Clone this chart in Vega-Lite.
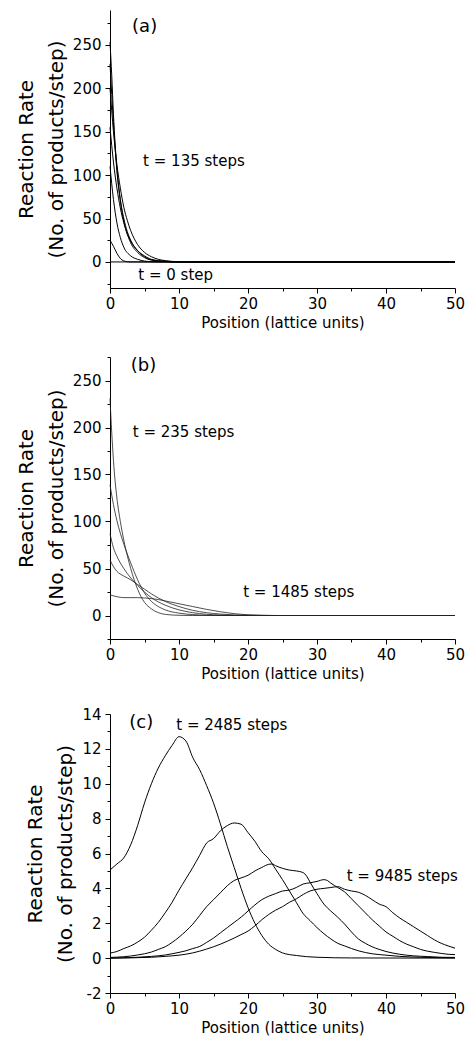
{
  "$schema": "https://vega.github.io/schema/vega-lite/v6.json",
  "padding": {"left": 16, "top": 10, "right": 5, "bottom": 5},
  "spacing": 26,
  "config": {
    "view": {"stroke": null},
    "font": "DejaVu Sans",
    "axis": {
      "grid": false,
      "domainColor": "black",
      "domainWidth": 1,
      "tickColor": "black",
      "tickWidth": 1,
      "tickSize": 5,
      "labelColor": "black",
      "titleColor": "black",
      "labelFont": "DejaVu Sans",
      "titleFont": "DejaVu Sans",
      "labelFontSize": 15,
      "titleFontSize": 15,
      "titleFontWeight": "normal",
      "labelPadding": 3,
      "labelFlush": false,
      "labelOverlap": false
    },
    "axisX": {"titlePadding": 4},
    "line": {"color": "black", "strokeWidth": 1, "interpolate": "monotone"},
    "text": {"font": "DejaVu Sans", "fontSize": 15, "color": "black", "align": "left", "baseline": "middle"}
  },
  "datasets": {
    "a": [
      {"id": "a0", "x": 0, "y": 0}, {"id": "a0", "x": 50, "y": 0},
      {"id": "a1", "x": 0, "y": 25}, {"id": "a1", "x": 0.5, "y": 18}, {"id": "a1", "x": 1, "y": 10}, {"id": "a1", "x": 1.5, "y": 4}, {"id": "a1", "x": 2, "y": 1.2}, {"id": "a1", "x": 2.5, "y": 0.3}, {"id": "a1", "x": 3, "y": 0}, {"id": "a1", "x": 50, "y": 0},
      {"id": "a2", "x": 0, "y": 110}, {"id": "a2", "x": 0.5, "y": 72}, {"id": "a2", "x": 1, "y": 45}, {"id": "a2", "x": 1.5, "y": 28}, {"id": "a2", "x": 2, "y": 17}, {"id": "a2", "x": 3, "y": 7}, {"id": "a2", "x": 4, "y": 3}, {"id": "a2", "x": 5, "y": 1}, {"id": "a2", "x": 6, "y": 0.3}, {"id": "a2", "x": 7, "y": 0}, {"id": "a2", "x": 50, "y": 0},
      {"id": "a3", "x": 0, "y": 155}, {"id": "a3", "x": 0.5, "y": 115}, {"id": "a3", "x": 1, "y": 85}, {"id": "a3", "x": 1.5, "y": 62}, {"id": "a3", "x": 2, "y": 45}, {"id": "a3", "x": 3, "y": 24}, {"id": "a3", "x": 4, "y": 13}, {"id": "a3", "x": 5, "y": 7}, {"id": "a3", "x": 6, "y": 3}, {"id": "a3", "x": 8, "y": 0.8}, {"id": "a3", "x": 10, "y": 0}, {"id": "a3", "x": 50, "y": 0},
      {"id": "a4", "x": 0, "y": 200}, {"id": "a4", "x": 0.5, "y": 150}, {"id": "a4", "x": 1, "y": 112}, {"id": "a4", "x": 1.5, "y": 85}, {"id": "a4", "x": 2, "y": 63}, {"id": "a4", "x": 2.5, "y": 48}, {"id": "a4", "x": 3, "y": 36}, {"id": "a4", "x": 3.5, "y": 27}, {"id": "a4", "x": 4, "y": 20}, {"id": "a4", "x": 5, "y": 11}, {"id": "a4", "x": 6, "y": 6}, {"id": "a4", "x": 7, "y": 3}, {"id": "a4", "x": 8, "y": 1.5}, {"id": "a4", "x": 10, "y": 0.3}, {"id": "a4", "x": 13, "y": 0}, {"id": "a4", "x": 50, "y": 0},
      {"id": "a5", "x": 0, "y": 228}, {"id": "a5", "x": 0.5, "y": 160}, {"id": "a5", "x": 1, "y": 105}, {"id": "a5", "x": 1.5, "y": 70}, {"id": "a5", "x": 2, "y": 47}, {"id": "a5", "x": 3, "y": 22}, {"id": "a5", "x": 4, "y": 11}, {"id": "a5", "x": 5, "y": 5}, {"id": "a5", "x": 6, "y": 2}, {"id": "a5", "x": 8, "y": 0.5}, {"id": "a5", "x": 10, "y": 0}, {"id": "a5", "x": 50, "y": 0},
      {"id": "a6", "x": 0, "y": 253}, {"id": "a6", "x": 0.25, "y": 215}, {"id": "a6", "x": 0.5, "y": 170}, {"id": "a6", "x": 0.75, "y": 135}, {"id": "a6", "x": 1, "y": 108}, {"id": "a6", "x": 1.5, "y": 72}, {"id": "a6", "x": 2, "y": 50}, {"id": "a6", "x": 2.5, "y": 35}, {"id": "a6", "x": 3, "y": 25}, {"id": "a6", "x": 4, "y": 13}, {"id": "a6", "x": 5, "y": 6}, {"id": "a6", "x": 6, "y": 2.5}, {"id": "a6", "x": 8, "y": 0.5}, {"id": "a6", "x": 10, "y": 0}, {"id": "a6", "x": 50, "y": 0}
    ],
    "b": [
      {"id": "b1", "x": 0, "y": 231}, {"id": "b1", "x": 0.25, "y": 195}, {"id": "b1", "x": 0.5, "y": 165}, {"id": "b1", "x": 1, "y": 125}, {"id": "b1", "x": 1.5, "y": 100}, {"id": "b1", "x": 2, "y": 80}, {"id": "b1", "x": 2.5, "y": 64}, {"id": "b1", "x": 3, "y": 50}, {"id": "b1", "x": 3.5, "y": 38}, {"id": "b1", "x": 4, "y": 28}, {"id": "b1", "x": 4.5, "y": 20}, {"id": "b1", "x": 5, "y": 14}, {"id": "b1", "x": 6, "y": 7}, {"id": "b1", "x": 7, "y": 3}, {"id": "b1", "x": 8, "y": 1.2}, {"id": "b1", "x": 10, "y": 0.2}, {"id": "b1", "x": 12, "y": 0}, {"id": "b1", "x": 50, "y": 0},
      {"id": "b2", "x": 0, "y": 139}, {"id": "b2", "x": 0.5, "y": 118}, {"id": "b2", "x": 1, "y": 101}, {"id": "b2", "x": 2, "y": 76}, {"id": "b2", "x": 3, "y": 56}, {"id": "b2", "x": 4, "y": 38}, {"id": "b2", "x": 5, "y": 24}, {"id": "b2", "x": 6, "y": 15}, {"id": "b2", "x": 7, "y": 9.5}, {"id": "b2", "x": 8, "y": 6}, {"id": "b2", "x": 10, "y": 2.5}, {"id": "b2", "x": 12, "y": 1}, {"id": "b2", "x": 14, "y": 0.3}, {"id": "b2", "x": 16, "y": 0}, {"id": "b2", "x": 50, "y": 0},
      {"id": "b3", "x": 0, "y": 87}, {"id": "b3", "x": 0.5, "y": 72}, {"id": "b3", "x": 1, "y": 63}, {"id": "b3", "x": 2, "y": 50}, {"id": "b3", "x": 3, "y": 40}, {"id": "b3", "x": 4, "y": 32}, {"id": "b3", "x": 5, "y": 25}, {"id": "b3", "x": 6, "y": 19}, {"id": "b3", "x": 8, "y": 11}, {"id": "b3", "x": 10, "y": 6}, {"id": "b3", "x": 12, "y": 3}, {"id": "b3", "x": 14, "y": 1.3}, {"id": "b3", "x": 16, "y": 0.5}, {"id": "b3", "x": 18, "y": 0.1}, {"id": "b3", "x": 20, "y": 0}, {"id": "b3", "x": 50, "y": 0},
      {"id": "b4", "x": 0, "y": 59}, {"id": "b4", "x": 0.5, "y": 52}, {"id": "b4", "x": 1, "y": 47}, {"id": "b4", "x": 2, "y": 42}, {"id": "b4", "x": 3, "y": 38}, {"id": "b4", "x": 4, "y": 33}, {"id": "b4", "x": 5, "y": 28}, {"id": "b4", "x": 6, "y": 23}, {"id": "b4", "x": 8, "y": 15}, {"id": "b4", "x": 10, "y": 9.5}, {"id": "b4", "x": 12, "y": 5.5}, {"id": "b4", "x": 14, "y": 3}, {"id": "b4", "x": 16, "y": 1.5}, {"id": "b4", "x": 18, "y": 0.6}, {"id": "b4", "x": 20, "y": 0.2}, {"id": "b4", "x": 22, "y": 0}, {"id": "b4", "x": 50, "y": 0},
      {"id": "b5", "x": 0, "y": 22}, {"id": "b5", "x": 1, "y": 20}, {"id": "b5", "x": 2, "y": 19}, {"id": "b5", "x": 3, "y": 19}, {"id": "b5", "x": 4, "y": 19}, {"id": "b5", "x": 5, "y": 18.7}, {"id": "b5", "x": 6, "y": 18}, {"id": "b5", "x": 7, "y": 17}, {"id": "b5", "x": 8, "y": 15.5}, {"id": "b5", "x": 10, "y": 12.5}, {"id": "b5", "x": 12, "y": 9.5}, {"id": "b5", "x": 14, "y": 6.5}, {"id": "b5", "x": 16, "y": 4}, {"id": "b5", "x": 18, "y": 2}, {"id": "b5", "x": 20, "y": 0.8}, {"id": "b5", "x": 22, "y": 0.3}, {"id": "b5", "x": 24, "y": 0}, {"id": "b5", "x": 50, "y": 0}
    ],
    "c": [
      {"id": "c1", "x": 0, "y": 5.05}, {"id": "c1", "x": 1, "y": 5.4}, {"id": "c1", "x": 2, "y": 5.75}, {"id": "c1", "x": 3, "y": 6.5}, {"id": "c1", "x": 4, "y": 7.6}, {"id": "c1", "x": 5, "y": 8.9}, {"id": "c1", "x": 6, "y": 10.0}, {"id": "c1", "x": 7, "y": 10.9}, {"id": "c1", "x": 8, "y": 11.6}, {"id": "c1", "x": 9, "y": 12.2}, {"id": "c1", "x": 10, "y": 12.7}, {"id": "c1", "x": 11, "y": 12.45}, {"id": "c1", "x": 12, "y": 11.5}, {"id": "c1", "x": 13, "y": 10.8}, {"id": "c1", "x": 14, "y": 9.9}, {"id": "c1", "x": 15, "y": 8.9}, {"id": "c1", "x": 16, "y": 7.7}, {"id": "c1", "x": 17, "y": 6.4}, {"id": "c1", "x": 18, "y": 5.2}, {"id": "c1", "x": 19, "y": 4.0}, {"id": "c1", "x": 20, "y": 2.9}, {"id": "c1", "x": 21, "y": 2.0}, {"id": "c1", "x": 22, "y": 1.3}, {"id": "c1", "x": 23, "y": 0.8}, {"id": "c1", "x": 24, "y": 0.5}, {"id": "c1", "x": 25, "y": 0.3}, {"id": "c1", "x": 27, "y": 0.15}, {"id": "c1", "x": 30, "y": 0.05}, {"id": "c1", "x": 35, "y": 0.01}, {"id": "c1", "x": 50, "y": 0},
      {"id": "c2", "x": 0, "y": 0.29}, {"id": "c2", "x": 1, "y": 0.38}, {"id": "c2", "x": 2, "y": 0.55}, {"id": "c2", "x": 3, "y": 0.7}, {"id": "c2", "x": 4, "y": 0.92}, {"id": "c2", "x": 5, "y": 1.2}, {"id": "c2", "x": 6, "y": 1.6}, {"id": "c2", "x": 7, "y": 2.05}, {"id": "c2", "x": 8, "y": 2.6}, {"id": "c2", "x": 9, "y": 3.2}, {"id": "c2", "x": 10, "y": 3.9}, {"id": "c2", "x": 11, "y": 4.55}, {"id": "c2", "x": 12, "y": 5.2}, {"id": "c2", "x": 13, "y": 5.9}, {"id": "c2", "x": 14, "y": 6.6}, {"id": "c2", "x": 15, "y": 6.85}, {"id": "c2", "x": 16, "y": 7.3}, {"id": "c2", "x": 17, "y": 7.6}, {"id": "c2", "x": 18, "y": 7.75}, {"id": "c2", "x": 19, "y": 7.68}, {"id": "c2", "x": 20, "y": 7.2}, {"id": "c2", "x": 21, "y": 6.7}, {"id": "c2", "x": 22, "y": 6.1}, {"id": "c2", "x": 23, "y": 5.7}, {"id": "c2", "x": 24, "y": 5.1}, {"id": "c2", "x": 25, "y": 4.5}, {"id": "c2", "x": 26, "y": 3.85}, {"id": "c2", "x": 27, "y": 3.2}, {"id": "c2", "x": 28, "y": 2.55}, {"id": "c2", "x": 29, "y": 2.15}, {"id": "c2", "x": 30, "y": 1.75}, {"id": "c2", "x": 31, "y": 1.4}, {"id": "c2", "x": 32, "y": 1.1}, {"id": "c2", "x": 33, "y": 0.85}, {"id": "c2", "x": 34, "y": 0.7}, {"id": "c2", "x": 35, "y": 0.55}, {"id": "c2", "x": 36, "y": 0.42}, {"id": "c2", "x": 38, "y": 0.25}, {"id": "c2", "x": 40, "y": 0.17}, {"id": "c2", "x": 42, "y": 0.1}, {"id": "c2", "x": 45, "y": 0.05}, {"id": "c2", "x": 50, "y": 0.02},
      {"id": "c3", "x": 0, "y": 0.04}, {"id": "c3", "x": 2, "y": 0.08}, {"id": "c3", "x": 3, "y": 0.12}, {"id": "c3", "x": 4, "y": 0.18}, {"id": "c3", "x": 5, "y": 0.25}, {"id": "c3", "x": 6, "y": 0.35}, {"id": "c3", "x": 7, "y": 0.5}, {"id": "c3", "x": 8, "y": 0.65}, {"id": "c3", "x": 9, "y": 0.9}, {"id": "c3", "x": 10, "y": 1.2}, {"id": "c3", "x": 11, "y": 1.55}, {"id": "c3", "x": 12, "y": 1.95}, {"id": "c3", "x": 13, "y": 2.45}, {"id": "c3", "x": 14, "y": 2.95}, {"id": "c3", "x": 15, "y": 3.35}, {"id": "c3", "x": 16, "y": 3.75}, {"id": "c3", "x": 17, "y": 4.15}, {"id": "c3", "x": 18, "y": 4.45}, {"id": "c3", "x": 19, "y": 4.6}, {"id": "c3", "x": 20, "y": 4.75}, {"id": "c3", "x": 21, "y": 5.0}, {"id": "c3", "x": 22, "y": 5.2}, {"id": "c3", "x": 23, "y": 5.38}, {"id": "c3", "x": 23.5, "y": 5.4}, {"id": "c3", "x": 24, "y": 5.3}, {"id": "c3", "x": 25, "y": 5.15}, {"id": "c3", "x": 26, "y": 5.05}, {"id": "c3", "x": 27, "y": 5.0}, {"id": "c3", "x": 28, "y": 4.9}, {"id": "c3", "x": 28.5, "y": 4.7}, {"id": "c3", "x": 29, "y": 4.35}, {"id": "c3", "x": 30, "y": 3.7}, {"id": "c3", "x": 31, "y": 3.1}, {"id": "c3", "x": 32, "y": 2.7}, {"id": "c3", "x": 33, "y": 2.35}, {"id": "c3", "x": 34, "y": 1.95}, {"id": "c3", "x": 35, "y": 1.5}, {"id": "c3", "x": 36, "y": 1.1}, {"id": "c3", "x": 37, "y": 0.85}, {"id": "c3", "x": 38, "y": 0.65}, {"id": "c3", "x": 39, "y": 0.5}, {"id": "c3", "x": 40, "y": 0.38}, {"id": "c3", "x": 42, "y": 0.22}, {"id": "c3", "x": 44, "y": 0.13}, {"id": "c3", "x": 46, "y": 0.09}, {"id": "c3", "x": 48, "y": 0.05}, {"id": "c3", "x": 50, "y": 0.04},
      {"id": "c4", "x": 0, "y": 0}, {"id": "c4", "x": 4, "y": 0.05}, {"id": "c4", "x": 6, "y": 0.1}, {"id": "c4", "x": 8, "y": 0.18}, {"id": "c4", "x": 9, "y": 0.25}, {"id": "c4", "x": 10, "y": 0.33}, {"id": "c4", "x": 11, "y": 0.42}, {"id": "c4", "x": 12, "y": 0.55}, {"id": "c4", "x": 13, "y": 0.67}, {"id": "c4", "x": 14, "y": 0.9}, {"id": "c4", "x": 15, "y": 1.15}, {"id": "c4", "x": 16, "y": 1.45}, {"id": "c4", "x": 17, "y": 1.75}, {"id": "c4", "x": 18, "y": 2.05}, {"id": "c4", "x": 19, "y": 2.35}, {"id": "c4", "x": 20, "y": 2.7}, {"id": "c4", "x": 21, "y": 3.05}, {"id": "c4", "x": 22, "y": 3.35}, {"id": "c4", "x": 23, "y": 3.55}, {"id": "c4", "x": 24, "y": 3.7}, {"id": "c4", "x": 25, "y": 3.85}, {"id": "c4", "x": 26, "y": 3.9}, {"id": "c4", "x": 27, "y": 4.05}, {"id": "c4", "x": 28, "y": 4.25}, {"id": "c4", "x": 29, "y": 4.32}, {"id": "c4", "x": 30, "y": 4.4}, {"id": "c4", "x": 31, "y": 4.5}, {"id": "c4", "x": 31.5, "y": 4.45}, {"id": "c4", "x": 32, "y": 4.3}, {"id": "c4", "x": 33, "y": 4.05}, {"id": "c4", "x": 34, "y": 3.8}, {"id": "c4", "x": 35, "y": 3.4}, {"id": "c4", "x": 36, "y": 3.0}, {"id": "c4", "x": 37, "y": 2.6}, {"id": "c4", "x": 38, "y": 2.2}, {"id": "c4", "x": 39, "y": 1.85}, {"id": "c4", "x": 40, "y": 1.5}, {"id": "c4", "x": 41, "y": 1.25}, {"id": "c4", "x": 42, "y": 1.0}, {"id": "c4", "x": 43, "y": 0.8}, {"id": "c4", "x": 44, "y": 0.65}, {"id": "c4", "x": 45, "y": 0.5}, {"id": "c4", "x": 46, "y": 0.4}, {"id": "c4", "x": 47, "y": 0.33}, {"id": "c4", "x": 48, "y": 0.27}, {"id": "c4", "x": 49, "y": 0.22}, {"id": "c4", "x": 50, "y": 0.2},
      {"id": "c5", "x": 0, "y": 0}, {"id": "c5", "x": 6, "y": 0.05}, {"id": "c5", "x": 8, "y": 0.1}, {"id": "c5", "x": 10, "y": 0.17}, {"id": "c5", "x": 12, "y": 0.3}, {"id": "c5", "x": 13, "y": 0.4}, {"id": "c5", "x": 14, "y": 0.52}, {"id": "c5", "x": 15, "y": 0.65}, {"id": "c5", "x": 16, "y": 0.8}, {"id": "c5", "x": 17, "y": 0.97}, {"id": "c5", "x": 18, "y": 1.15}, {"id": "c5", "x": 19, "y": 1.35}, {"id": "c5", "x": 20, "y": 1.55}, {"id": "c5", "x": 21, "y": 1.85}, {"id": "c5", "x": 22, "y": 2.2}, {"id": "c5", "x": 23, "y": 2.5}, {"id": "c5", "x": 24, "y": 2.75}, {"id": "c5", "x": 25, "y": 2.95}, {"id": "c5", "x": 26, "y": 3.2}, {"id": "c5", "x": 27, "y": 3.4}, {"id": "c5", "x": 28, "y": 3.65}, {"id": "c5", "x": 29, "y": 3.85}, {"id": "c5", "x": 30, "y": 3.95}, {"id": "c5", "x": 31, "y": 4.0}, {"id": "c5", "x": 32, "y": 4.05}, {"id": "c5", "x": 33, "y": 4.1}, {"id": "c5", "x": 34, "y": 3.95}, {"id": "c5", "x": 35, "y": 3.85}, {"id": "c5", "x": 36, "y": 3.78}, {"id": "c5", "x": 37, "y": 3.6}, {"id": "c5", "x": 38, "y": 3.35}, {"id": "c5", "x": 39, "y": 3.1}, {"id": "c5", "x": 40, "y": 2.95}, {"id": "c5", "x": 41, "y": 2.6}, {"id": "c5", "x": 42, "y": 2.3}, {"id": "c5", "x": 43, "y": 2.05}, {"id": "c5", "x": 44, "y": 1.8}, {"id": "c5", "x": 45, "y": 1.55}, {"id": "c5", "x": 46, "y": 1.3}, {"id": "c5", "x": 47, "y": 1.05}, {"id": "c5", "x": 48, "y": 0.85}, {"id": "c5", "x": 49, "y": 0.7}, {"id": "c5", "x": 50, "y": 0.57}
    ]
  },
  "vconcat": [
    {
      "width": 345,
      "height": 278,
      "resolve": {"axis": {"x": "independent", "y": "independent"}},
      "layer": [
        {
          "data": {"name": "a"},
          "mark": {"type": "line"},
          "encoding": {
            "x": {"field": "x", "type": "quantitative", "scale": {"domain": [0, 50], "nice": false},
              "axis": {"orient": "bottom", "title": "Position (lattice units)", "values": [0, 10, 20, 30, 40, 50]}},
            "y": {"field": "y", "type": "quantitative", "scale": {"domain": [-30, 290], "nice": false, "zero": false},
              "axis": {"orient": "left", "title": ["Reaction Rate", "(No. of products/step)"], "titleFontSize": 20, "titleLineHeight": 30, "titlePadding": 6, "labelPadding": 4, "values": [0, 50, 100, 150, 200, 250]}},
            "detail": {"field": "id"}
          }
        },
        {
          "data": {"values": [{"x": 3.2, "y": 270, "text": "(a)"}]},
          "mark": {"type": "text", "fontSize": 18},
          "encoding": {"x": {"field": "x", "type": "quantitative", "axis": null}, "y": {"field": "y", "type": "quantitative", "axis": null}, "text": {"field": "text"}}
        },
        {
          "data": {"values": [{"x": 4.8, "y": 116, "text": "t = 135 steps"}, {"x": 4.1, "y": -14.6, "text": "t = 0 step"}]},
          "mark": {"type": "text"},
          "encoding": {
            "x": {"field": "x", "type": "quantitative", "axis": {"orient": "bottom", "values": [5, 15, 25, 35, 45], "labels": false, "domain": false, "tickSize": 3, "title": null}},
            "y": {"field": "y", "type": "quantitative", "axis": {"orient": "left", "values": [-25, 25, 75, 125, 175, 225, 275], "labels": false, "domain": false, "tickSize": 3, "title": null}},
            "text": {"field": "text"}
          }
        }
      ]
    },
    {
      "width": 345,
      "height": 282,
      "resolve": {"axis": {"x": "independent", "y": "independent"}},
      "layer": [
        {
          "data": {"name": "b"},
          "mark": {"type": "line", "strokeWidth": 0.8, "color": "#222222"},
          "encoding": {
            "x": {"field": "x", "type": "quantitative", "scale": {"domain": [0, 50], "nice": false},
              "axis": {"orient": "bottom", "title": "Position (lattice units)", "values": [0, 10, 20, 30, 40, 50]}},
            "y": {"field": "y", "type": "quantitative", "scale": {"domain": [-25, 275], "nice": false, "zero": false},
              "axis": {"orient": "left", "title": ["Reaction Rate", "(No. of products/step)"], "titleFontSize": 20, "titleLineHeight": 30, "titlePadding": 6, "labelPadding": 4, "values": [0, 50, 100, 150, 200, 250]}},
            "detail": {"field": "id"}
          }
        },
        {
          "data": {"values": [{"x": 3.0, "y": 265, "text": "(b)"}]},
          "mark": {"type": "text", "fontSize": 18},
          "encoding": {"x": {"field": "x", "type": "quantitative", "axis": null}, "y": {"field": "y", "type": "quantitative", "axis": null}, "text": {"field": "text"}}
        },
        {
          "data": {"values": [{"x": 3.3, "y": 195, "text": "t = 235 steps"}, {"x": 19.3, "y": 25, "text": "t = 1485 steps"}]},
          "mark": {"type": "text"},
          "encoding": {
            "x": {"field": "x", "type": "quantitative", "axis": {"orient": "bottom", "values": [5, 15, 25, 35, 45], "labels": false, "domain": false, "tickSize": 3, "title": null}},
            "y": {"field": "y", "type": "quantitative", "axis": {"orient": "left", "values": [-25, 25, 75, 125, 175, 225, 275], "labels": false, "domain": false, "tickSize": 3, "title": null}},
            "text": {"field": "text"}
          }
        }
      ]
    },
    {
      "width": 345,
      "height": 279,
      "resolve": {"axis": {"x": "independent", "y": "independent"}},
      "layer": [
        {
          "data": {"name": "c"},
          "mark": {"type": "line"},
          "encoding": {
            "x": {"field": "x", "type": "quantitative", "scale": {"domain": [0, 50], "nice": false},
              "axis": {"orient": "bottom", "title": "Position (lattice units)", "values": [0, 10, 20, 30, 40, 50]}},
            "y": {"field": "y", "type": "quantitative", "scale": {"domain": [-2, 14], "nice": false, "zero": false},
              "axis": {"orient": "left", "title": ["Reaction Rate", "(No. of products/step)"], "titleFontSize": 20, "titleLineHeight": 30, "titlePadding": 6, "labelPadding": 4, "values": [-2, 0, 2, 4, 6, 8, 10, 12, 14], "labelExpr": "'' + datum.value"}},
            "detail": {"field": "id"}
          }
        },
        {
          "data": {"values": [{"x": 2.8, "y": 13.48, "text": "(c)"}]},
          "mark": {"type": "text", "fontSize": 18},
          "encoding": {"x": {"field": "x", "type": "quantitative", "axis": null}, "y": {"field": "y", "type": "quantitative", "axis": null}, "text": {"field": "text"}}
        },
        {
          "data": {"values": [{"x": 9.6, "y": 13.38, "text": "t = 2485 steps"}, {"x": 34.3, "y": 4.69, "text": "t = 9485 steps"}]},
          "mark": {"type": "text"},
          "encoding": {
            "x": {"field": "x", "type": "quantitative", "axis": {"orient": "bottom", "values": [5, 15, 25, 35, 45], "labels": false, "domain": false, "tickSize": 3, "title": null}},
            "y": {"field": "y", "type": "quantitative", "axis": {"orient": "left", "values": [-1, 1, 3, 5, 7, 9, 11, 13], "labels": false, "domain": false, "tickSize": 3, "title": null}},
            "text": {"field": "text"}
          }
        }
      ]
    }
  ]
}
